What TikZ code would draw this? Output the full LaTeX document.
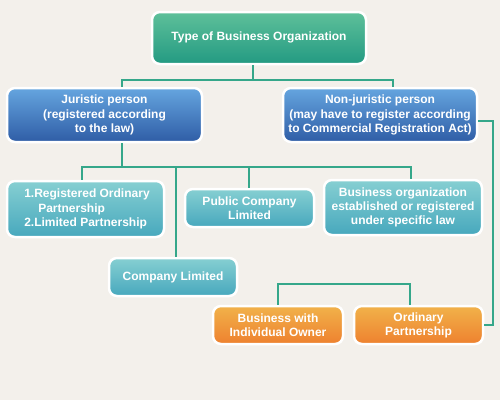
\documentclass[tikz,border=0pt]{standalone}
\usepackage{fontspec}
\setmainfont{Liberation Sans}
\begin{document}
\begin{tikzpicture}[x=1pt,y=-1pt,
  box/.style={rounded corners=8pt, draw=white, line width=2.5pt, text=white,
    font=\fontsize{12}{14.2}\selectfont\bfseries, align=center, inner sep=0pt},
  gbox/.style={box, top color=green1, bottom color=green2},
  bbox/.style={box, top color=blue1, bottom color=blue2},
  tbox/.style={box, top color=teal1, bottom color=teal2},
  obox/.style={box, top color=orange1, bottom color=orange2},
  conn/.style={draw=connc, line width=2.6pt}]
\definecolor{bg}{HTML}{F3F0EB}
\definecolor{green1}{HTML}{5EC09A}
\definecolor{green2}{HTML}{239A82}
\definecolor{blue1}{HTML}{65A5DF}
\definecolor{blue2}{HTML}{2F5DA6}
\definecolor{teal1}{HTML}{86CFD2}
\definecolor{teal2}{HTML}{47A8BD}
\definecolor{orange1}{HTML}{F1B24A}
\definecolor{orange2}{HTML}{EE812F}
\definecolor{connc}{HTML}{35A78A}
\fill[bg] (0,0) rectangle (500,400);
\useasboundingbox (0,0) rectangle (500,400);
% coordinates for connector routing
\coordinate (xa) at (253,0);
\coordinate (xj) at (122,0);
\coordinate (xn) at (393,0);
\coordinate (x82) at (82,0);
\coordinate (x176) at (176,0);
\coordinate (x249) at (249,0);
\coordinate (x411) at (411,0);
\coordinate (x493) at (493,0);
\coordinate (x410) at (410,0);
\coordinate (h1) at (0,80);
\coordinate (h2) at (0,167);
\coordinate (h3) at (0,284);
\coordinate (y121) at (0,121);
% nodes
\node[gbox, minimum width=214pt, minimum height=52pt] (top) at (259,38) {\raisebox{3pt}{Type of Business Organization}};
\node[bbox, minimum width=195pt, minimum height=54pt] (jur) at (104.5,115) {Juristic person\\(registered according\\to the law)};
\node[bbox, minimum width=194pt, minimum height=54pt] (non) at (380,115) {Non-juristic person\\(may have to register according\\to Commercial Registration Act)};
\node[tbox, minimum width=157pt, minimum height=56pt, align=left] (num) at (85.5,209) {\hspace*{3pt}1.Registered Ordinary\\\hspace*{17pt}Partnership\\\hspace*{3pt}2.Limited Partnership};
\node[tbox, minimum width=129pt, minimum height=38pt] (pub) at (249.5,208) {Public Company\\Limited};
\node[tbox, minimum width=158pt, minimum height=55pt] (biz) at (403,207.5) {Business organization\\established or registered\\under specific law};
\node[tbox, minimum width=128pt, minimum height=38pt] (comp) at (173,277) {Company Limited};
\node[obox, minimum width=130pt, minimum height=38pt] (ind) at (278,325) {Business with\\Individual Owner};
\node[obox, minimum width=129pt, minimum height=38pt] (ord) at (418.5,325) {Ordinary\\Partnership};
% connectors
\draw[conn] (top.south -| xa) -- (xa |- h1);
\draw[conn] (jur.north -| xj) -- (xj |- h1) -- (xn |- h1) -- (non.north -| xn);
\draw[conn] (jur.south -| xj) -- (xj |- h2);
\draw[conn] (num.north -| x82) -- (x82 |- h2) -- (x411 |- h2) -- (biz.north -| x411);
\draw[conn] (x176 |- h2) -- (comp.north -| x176);
\draw[conn] (x249 |- h2) -- (pub.north -| x249);
\draw[conn] (non.east |- y121) -- (x493 |- y121) -- (x493 |- ord.east) -- (ord.east);
\draw[conn] (ind.north) -- (ind.north |- h3) -- (x410 |- h3) -- (ord.north -| x410);
\end{tikzpicture}
\end{document}
